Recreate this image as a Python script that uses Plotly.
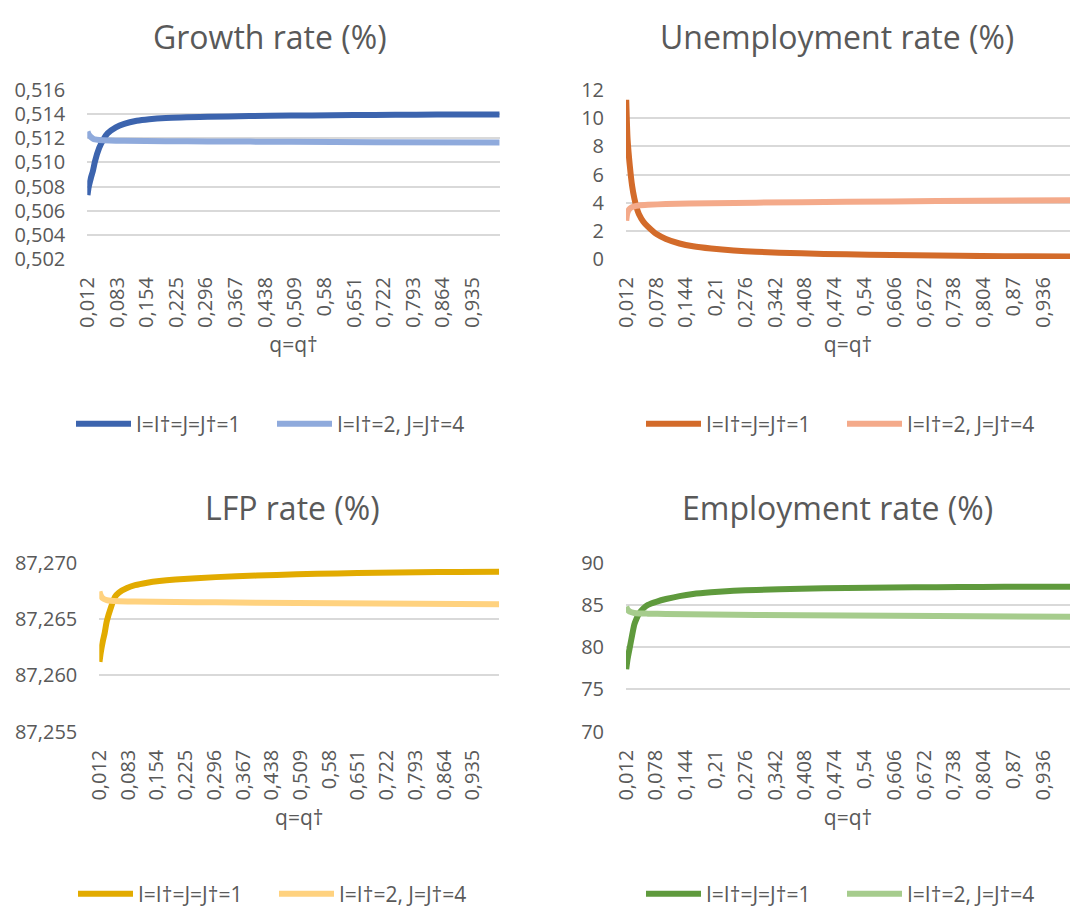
import plotly.graph_objects as go

# ---------------- data ----------------
# Growth rate (%)
growth_q1 = [0.012, 0.015, 0.02, 0.025, 0.03, 0.04, 0.05, 0.06, 0.08, 0.1, 0.13, 0.16, 0.2,
             0.3, 0.4, 0.5, 0.6, 0.7, 0.8, 0.9, 1.0]
growth_s1 = [0.5073, 0.5080, 0.5087, 0.5093, 0.5101, 0.5112, 0.5119, 0.5124, 0.5129, 0.5132,
             0.51345, 0.51358, 0.51368, 0.51378, 0.51384, 0.51388, 0.51391, 0.51393, 0.51395,
             0.51397, 0.51398]
growth_q2 = [0.012, 0.015, 0.02, 0.025, 0.03, 0.04, 0.05, 0.08, 0.1, 0.2, 0.3, 0.5, 0.7, 1.0]
growth_s2 = [0.51255, 0.5123, 0.5121, 0.51198, 0.5119, 0.51185, 0.51183, 0.5118, 0.51179,
             0.51176, 0.51174, 0.51171, 0.51168, 0.51165]

# Unemployment rate (%)
unemp_q1 = [0.012, 0.015, 0.02, 0.025, 0.03, 0.035, 0.04, 0.05, 0.06, 0.08, 0.1, 0.13, 0.16,
            0.2, 0.25, 0.3, 0.4, 0.5, 0.6, 0.7, 0.8, 0.9, 1.0]
unemp_s1 = [11.3, 8.5, 6.6, 5.2, 4.3, 3.65, 3.2, 2.65, 2.3, 1.75, 1.42, 1.1, 0.9, 0.74, 0.6,
            0.51, 0.4, 0.33, 0.28, 0.24, 0.21, 0.19, 0.17]
unemp_q2 = [0.012, 0.014, 0.017, 0.02, 0.025, 0.03, 0.04, 0.06, 0.1, 0.2, 0.3, 0.5, 0.7, 1.0]
unemp_s2 = [2.72, 3.2, 3.45, 3.58, 3.68, 3.74, 3.8, 3.85, 3.9, 3.96, 4.0, 4.06, 4.11, 4.18]

# LFP rate (%)
lfp_q1 = [0.012, 0.015, 0.02, 0.025, 0.03, 0.04, 0.05, 0.06, 0.08, 0.1, 0.13, 0.16, 0.2, 0.3,
          0.4, 0.5, 0.6, 0.7, 0.8, 0.9, 1.0]
lfp_s1 = [87.2612, 87.2620, 87.2630, 87.2638, 87.2648, 87.2660, 87.26695, 87.26735, 87.26775,
          87.26800, 87.26822, 87.26837, 87.26850, 87.26872, 87.26886, 87.26897, 87.26905,
          87.26910, 87.26915, 87.26918, 87.26920]
lfp_q2 = [0.012, 0.015, 0.02, 0.03, 0.04, 0.06, 0.1, 0.2, 0.3, 0.5, 0.7, 1.0]
lfp_s2 = [87.26745, 87.2671, 87.26685, 87.26668, 87.26662, 87.26658, 87.26655, 87.26651,
          87.26648, 87.26643, 87.26638, 87.26632]

# Employment rate (%)
emp_q1 = [0.012, 0.015, 0.02, 0.025, 0.03, 0.035, 0.04, 0.05, 0.06, 0.08, 0.1, 0.13, 0.16,
          0.2, 0.25, 0.3, 0.4, 0.5, 0.6, 0.7, 0.8, 0.9, 1.0]
emp_s1 = [77.4, 78.6, 80.0, 81.4, 82.7, 83.4, 83.95, 84.6, 85.0, 85.4, 85.7, 86.05, 86.3, 86.5,
          86.67, 86.78, 86.92, 87.0, 87.06, 87.1, 87.13, 87.15, 87.16]
emp_q2 = [0.012, 0.015, 0.02, 0.03, 0.04, 0.06, 0.1, 0.2, 0.3, 0.5, 0.7, 1.0]
emp_s2 = [84.8, 84.45, 84.2, 84.05, 84.0, 83.97, 83.93, 83.87, 83.82, 83.75, 83.68, 83.6]

# category labels shown on the horizontal axes
left_ticks = [0.012, 0.083, 0.154, 0.225, 0.296, 0.367, 0.438, 0.509, 0.58, 0.651, 0.722,
              0.793, 0.864, 0.935]
left_labels = ["0,012", "0,083", "0,154", "0,225", "0,296", "0,367", "0,438", "0,509", "0,58",
               "0,651", "0,722", "0,793", "0,864", "0,935"]
right_ticks = [0.012, 0.078, 0.144, 0.21, 0.276, 0.342, 0.408, 0.474, 0.54, 0.606, 0.672,
               0.738, 0.804, 0.87, 0.936]
right_labels = ["0,012", "0,078", "0,144", "0,21", "0,276", "0,342", "0,408", "0,474", "0,54",
                "0,606", "0,672", "0,738", "0,804", "0,87", "0,936"]

series_names = ["I=I†=J=J†=1", "I=I†=2, J=J†=4"]

# ---------------- figure ----------------
W, H = 1070, 907
FONT = "Open Sans"
GREY = "#595959"
GRID = "#d9d9d9"

fig = go.Figure()

panels = [
    # (x, y, legend, q1, s1, q2, s2, dark, light)
    ("x", "y", "legend", growth_q1, growth_s1, growth_q2, growth_s2, "#3c64ae", "#8faadc"),
    ("x2", "y2", "legend2", unemp_q1, unemp_s1, unemp_q2, unemp_s2, "#d36b2a", "#f4aa8a"),
    ("x3", "y3", "legend3", lfp_q1, lfp_s1, lfp_q2, lfp_s2, "#e2ab00", "#ffd27f"),
    ("x4", "y4", "legend4", emp_q1, emp_s1, emp_q2, emp_s2, "#5f9a3d", "#a6cc8d"),
]

for xa, ya, lg, q1, s1, q2, s2, dark, light in panels:
    fig.add_trace(go.Scatter(x=q1, y=s1, xaxis=xa, yaxis=ya, legend=lg, mode="lines",
                             name=series_names[0], line=dict(color=dark, width=6, shape="spline",
                                                             smoothing=0.6)))
    fig.add_trace(go.Scatter(x=q2, y=s2, xaxis=xa, yaxis=ya, legend=lg, mode="lines",
                             name=series_names[1], line=dict(color=light, width=6, shape="spline",
                                                             smoothing=0.6)))


def px_x(a, b):
    return [a / W, min(b / W, 1.0)]


def px_y(top, bottom):
    return [1 - bottom / H, 1 - top / H]


tick_font = dict(family=FONT, size=20, color=GREY)


def xaxis(domain, anchor, ticks, labels, rng):
    return dict(domain=domain, anchor=anchor, range=rng, tickmode="array", tickvals=ticks,
                ticktext=labels, tickangle=-90, tickfont=tick_font, showgrid=False,
                zeroline=False, showline=False, ticks="", ticklabelstandoff=13, automargin=False,
                title=dict(text="q=q†", font=dict(family=FONT, size=21, color=GREY), standoff=10))


def yaxis(domain, anchor, rng, dtick, fmt):
    return dict(domain=domain, anchor=anchor, range=rng, dtick=dtick, tick0=rng[0],
                tickformat=fmt, tickfont=tick_font, showgrid=True, gridcolor=GRID,
                gridwidth=1.5, zeroline=False, showline=False, ticks="", ticklabelstandoff=21,
                automargin=False)


top_row = px_y(90, 259)
bot_row = px_y(562.7, 731.7)

fig.update_layout(
    width=W, height=H,
    margin=dict(l=0, r=0, t=0, b=0, autoexpand=False),
    paper_bgcolor="white", plot_bgcolor="white",
    separators=", ",
    font=dict(family=FONT, color=GREY),
    xaxis=xaxis(px_x(87.3, 499.8), "y", left_ticks, left_labels, [0.0115, 1.0005]),
    yaxis=yaxis(top_row, "x", [0.502, 0.516], 0.002, ".3f"),
    xaxis2=xaxis(px_x(626, 1070), "y2", right_ticks, right_labels, [0.0115, 0.0115 + 444 / 451.3]),
    yaxis2=yaxis(top_row, "x2", [0, 12], 2, "d"),
    xaxis3=xaxis(px_x(99.3, 499.3), "y3", left_ticks, left_labels, [0.0115, 1.0005]),
    yaxis3=yaxis(bot_row, "x3", [87.255, 87.270], 0.005, ".3f"),
    xaxis4=xaxis(px_x(626, 1070), "y4", right_ticks, right_labels, [0.0115, 0.0115 + 444 / 451.3]),
    yaxis4=yaxis(bot_row, "x4", [70, 90], 5, "d"),
)

legend_style = dict(orientation="h", xanchor="center", yanchor="middle",
                    font=dict(family=FONT, size=21, color=GREY), bgcolor="rgba(0,0,0,0)",
                    itemwidth=55, entrywidth=131)
fig.update_layout(
    legend=dict(x=272 / W, y=1 - 424 / H, **legend_style),
    legend2=dict(x=842 / W, y=1 - 424 / H, **legend_style),
    legend3=dict(x=274 / W, y=1 - 894 / H, **legend_style),
    legend4=dict(x=842 / W, y=1 - 894 / H, **legend_style),
)

titles = [("Growth rate (%)", 270, 36), ("Unemployment rate (%)", 837, 36),
          ("LFP rate (%)", 292, 508), ("Employment rate (%)", 837, 508)]
for text, cx, cy in titles:
    fig.add_annotation(text=text, x=cx / W, y=1 - cy / H, xref="paper", yref="paper",
                       showarrow=False, xanchor="center", yanchor="middle",
                       font=dict(family=FONT, size=32, color=GREY))

fig.write_html("out.html")
